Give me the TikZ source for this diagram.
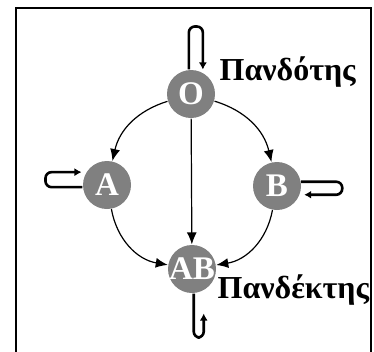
\documentclass[tikz,border=0pt]{standalone}
\usepackage{fontspec}
\setmainfont{Liberation Serif}
\usetikzlibrary{arrows.meta,positioning}

\begin{document}
\begin{tikzpicture}[x=1pt,y=-1pt,>={Latex[length=12pt,width=10pt]},
                    line width=1.2pt]
  \tikzstyle{vertex}=[circle,fill=gray,draw=none,minimum size=48pt,inner sep=-8pt,
                      text=white,font=\bfseries\fontsize{33}{33}\selectfont]
  \tikzstyle{selfloop}=[line width=2.6pt,rounded corners=6pt,
                        -{Latex[length=7pt,width=8pt]}]
  \tikzstyle{tag}=[inner sep=0pt,anchor=base west,
                   font=\bfseries\fontsize{32}{32}\selectfont]

  \useasboundingbox (0,0) rectangle (374,351);
  \draw[line width=2.6pt] (16,360) -- (16,8) -- (371,8) -- (371,360);

  \node[vertex] (O)  at (191,94)  {O};
  \node[vertex] (A)  at (107,185) {A};
  \node[vertex] (B)  at (277,186) {B};
  \node[vertex] (AB) at (192,269) {AB};

  \node[tag] (source) at (219,80)  {Πανδότης};
  \node[tag] (sink)   at (217,298) {Πανδέκτης};

  \path[->] (O) edge [bend right=30] (A)
                edge                 (AB)
                edge [bend left=30]  (B)
            (A) edge [bend right=35] (AB)
            (B) edge [bend left=35]  (AB);

  \draw[selfloop] (O.95)   -- ++(0,-43) -- ++(14,0) -- ++(0,43);
  \draw[selfloop] (A.185)  -- ++(-37,0) -- ++(0,-15) -- ++(36,0);
  \draw[selfloop] (B.10)   -- ++(41,0)  -- ++(0,13)  -- ++(-38,0);
  \draw[selfloop] (AB.-86) -- ++(0,44)  -- ++(10,0)  -- ++(0,-24);
\end{tikzpicture}
\end{document}
